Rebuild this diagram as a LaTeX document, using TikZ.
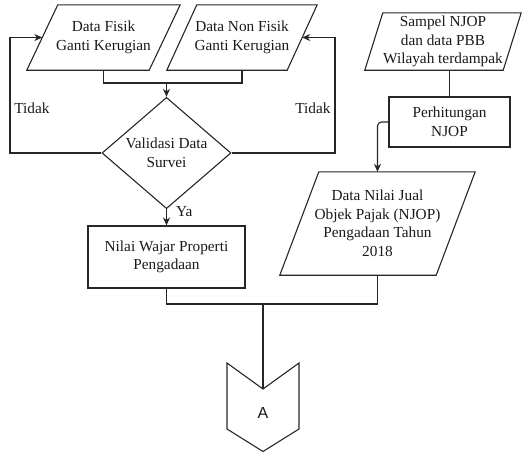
\documentclass[tikz,border=0pt]{standalone}
\usepackage{fontspec}
\setmainfont{Liberation Serif}
\newfontfamily\connfont{Liberation Sans}
\usetikzlibrary{shapes.geometric,arrows.meta}

% slanted outline of a data (input/output) box: node name, half of the slant
\newcommand\dataoutline[2]{%
  \draw[line, line join=miter]
    ([xshift=-#2]#1.south west) -- ([xshift=-#2]#1.south east)
    -- ([xshift=#2]#1.north east) -- ([xshift=#2]#1.north west) -- cycle;}

\begin{document}
\begin{tikzpicture}[x=1pt,y=-1pt,
  every node/.style={font=\fontsize{15.3}{18.5}\selectfont, text=black!90},
  line/.style={draw=black!85, line width=1.1pt},
  arr/.style={line, -{Stealth[length=8pt,width=7pt,inset=2.5pt]}},
  iobox/.style={rectangle, align=center, inner sep=0pt},
  procbox/.style={rectangle, draw=black!85, line width=1.1pt, align=center, inner sep=0pt},
  decision/.style={diamond, draw=black!85, line width=1.1pt, align=center, inner sep=0pt},
  tag/.style={inner sep=0pt}]

\useasboundingbox (0,0) rectangle (523,453);

% input data (body width = total width minus slant)
\node[iobox, minimum width=122pt, minimum height=65pt] (fisik) at (103.5,37.5)
  {Data Fisik\\Ganti Kerugian};
\node[iobox, minimum width=120pt, minimum height=65pt] (nonfisik) at (242,37.5)
  {Data Non Fisik\\Ganti Kerugian};
\node[iobox, minimum width=138pt, minimum height=57pt] (sampel) at (443,41.5)
  {Sampel NJOP\\dan data PBB\\Wilayah terdampak};
\dataoutline{fisik}{15.5pt}
\dataoutline{nonfisik}{15pt}
\dataoutline{sampel}{9pt}

% process and decision
\node[decision, minimum width=129pt, minimum height=100pt] (valid) at (166.5,153)
  {Validasi Data\\Survei};
\node[procbox, minimum width=157pt, minimum height=62pt] (wajar) at (166.5,257)
  {Nilai Wajar Properti\\Pengadaan};
\node[procbox, minimum width=121pt, minimum height=50pt] (hitung) at (449.5,122)
  {Perhitungan\\NJOP};
\node[iobox, minimum width=156pt, minimum height=103pt] (njop) at (377.5,223.5)
  {Data Nilai Jual\\Objek Pajak (NJOP)\\Pengadaan Tahun\\2018};
\dataoutline{njop}{19.5pt}

% off-page connector
\node[tag, font=\connfont\fontsize{16}{18}\selectfont] (offA) at (263,413) {A};
\coordinate (notch) at (263,389);
\draw[line, line join=miter] (227,363) -- (notch) -- (299,363) -- (299,429)
  -- (263,451.5) -- (227,429) -- cycle;

% junctions
\coordinate (join1) at (166.5,83);
\coordinate (join2) at (263,304);

% connectors
\draw[line] (fisik.south) |- (join1) -| (nonfisik.south);
\draw[arr] (join1) -- (valid.north);
\draw[arr] (valid.west) -- (10,153) |- (fisik.west);
\draw[arr] (valid.east) -- (335,153) |- (nonfisik.east);
\draw[arr] (valid.south) -- (wajar.north);
\draw[line] (hitung.north) -- (hitung.north |- sampel.south);
\draw[arr, rounded corners=4pt] (hitung.west) -| (njop.north);
\draw[line] (wajar.south) |- (join2) -| (njop.south);
\draw[line] (join2) -- (notch);

% labels
\node[tag] (noL) at (32,108) {Tidak};
\node[tag] (noR) at (313,108) {Tidak};
\node[tag, anchor=west] (yes) at (176,212) {Ya};
\end{tikzpicture}
\end{document}
